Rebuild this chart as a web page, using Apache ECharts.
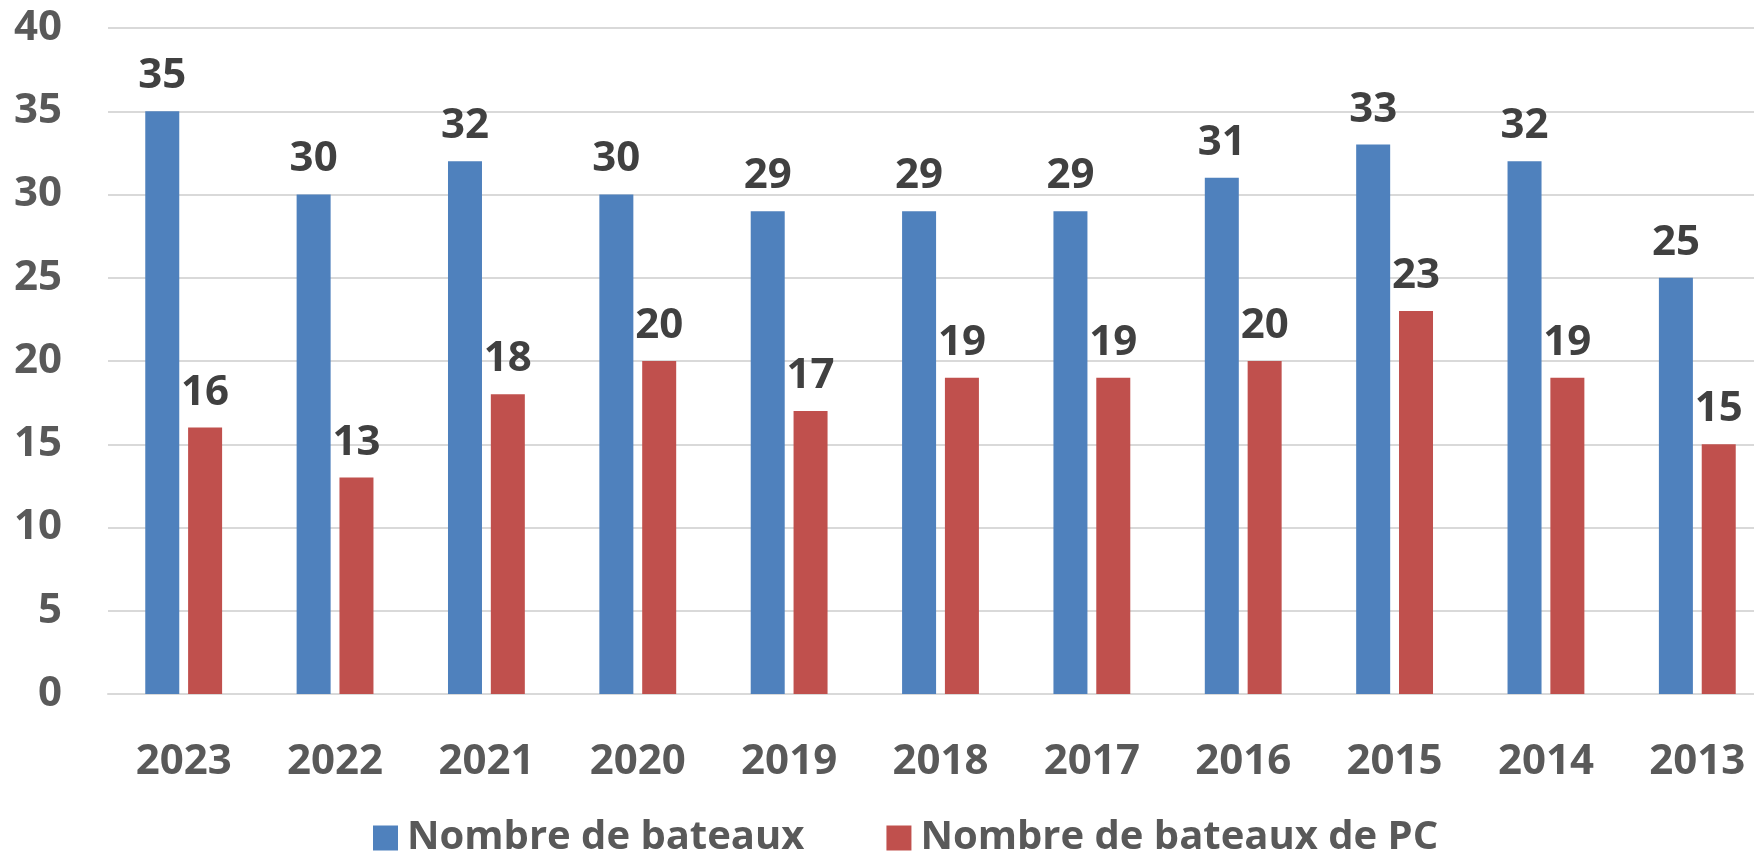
<!DOCTYPE html>
<html>
<head>
<meta charset="utf-8">
<script src="https://cdn.jsdelivr.net/npm/echarts@6/dist/echarts.min.js"></script>
<style>html,body{margin:0;padding:0;background:#fff;overflow:hidden;}#c{width:1773px;height:855px;}</style>
</head>
<body>
<div id="c"></div>
<script>
const categories = ['2023','2022','2021','2020','2019','2018','2017','2016','2015','2014','2013'];
const bateaux = [35,30,32,30,29,29,29,31,33,32,25];
const bateauxPC = [16,13,18,20,17,19,19,20,23,19,15];
const seriesNames = ['Nombre de bateaux','Nombre de bateaux de PC'];

const chart = echarts.init(document.getElementById('c'));
const font = '"Open Sans", "DejaVu Sans", sans-serif';
const labelCfg = {show:true, position:'top', distance:14, fontFamily:font, fontWeight:'bold', fontSize:42, color:'#404040'};
chart.setOption({
  animation:false,
  grid:{left:108, top:28, right:0, bottom:161, containLabel:false},
  legend:{
    left:368, top:813, itemWidth:25, itemHeight:25, itemGap:82,
    icon:'rect',
    textStyle:{fontFamily:font, fontWeight:'bold', fontSize:40, color:'#595959', padding:[0,0,0,4]},
    data:seriesNames
  },
  xAxis:{
    type:'category', data:categories,
    axisLine:{show:true, lineStyle:{color:'#D9D9D9', width:2}},
    axisTick:{show:false},
    axisLabel:{margin:47, fontFamily:font, fontWeight:'bold', fontSize:42, color:'#595959'}
  },
  yAxis:{
    type:'value', min:0, max:40, interval:5,
    axisLine:{show:false}, axisTick:{show:false},
    splitLine:{lineStyle:{color:'#D9D9D9', width:2}},
    axisLabel:{margin:46, fontFamily:font, fontWeight:'bold', fontSize:42, color:'#595959'}
  },
  series:[
    {name:seriesNames[0], type:'bar', data:bateaux, barWidth:34, barGap:'26%', itemStyle:{color:'#4F81BD'}, label:labelCfg},
    {name:seriesNames[1], type:'bar', data:bateauxPC, barWidth:34, itemStyle:{color:'#C0504D'}, label:labelCfg}
  ]
});
</script>
</body>
</html>
